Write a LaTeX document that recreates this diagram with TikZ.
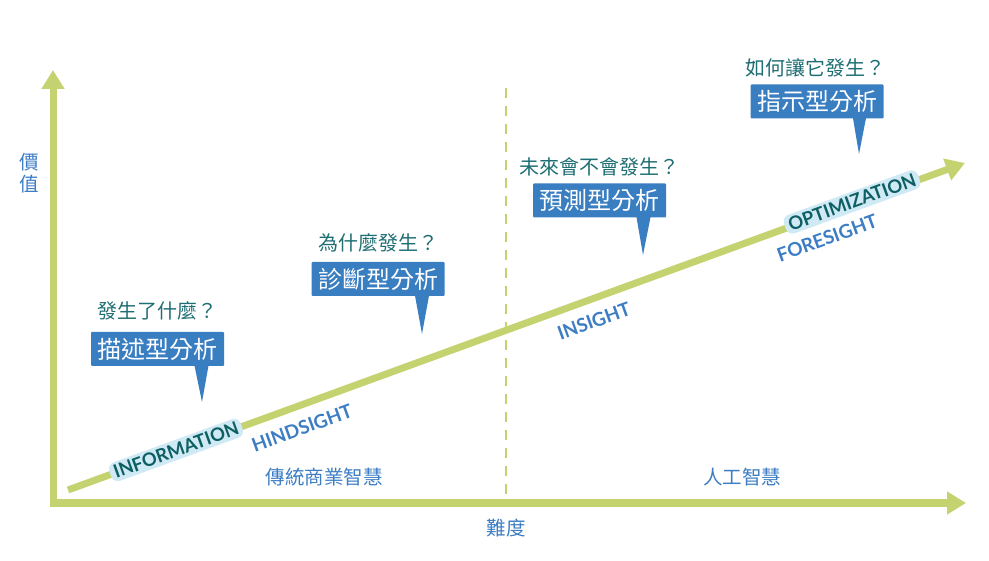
\documentclass[tikz,border=0pt]{standalone}
\usepackage{fontspec}
\newfontfamily\cjk{Noto Sans CJK TC}
\newfontfamily\lat{Lato}
\usetikzlibrary{arrows.meta,calc}
\definecolor{axgreen}{HTML}{C4D36F}
\definecolor{boxblue}{HTML}{3A7EC2}
\definecolor{qteal}{HTML}{1F6E73}
\definecolor{lblblue}{HTML}{3C7DC3}
\definecolor{infoteal}{HTML}{0E5F63}
\definecolor{infobg}{HTML}{CFEAF5}
\begin{document}
\begin{tikzpicture}[x=1pt,y=-1pt,
  axis/.style={draw=axgreen,line width=7pt,-{Triangle[length=19pt,width=22pt]}},
  box/.style={fill=boxblue,text=white,font=\cjk\fontsize{24}{26}\selectfont,minimum width=133pt,minimum height=34pt,inner sep=0pt,rounded corners=1pt},
  question/.style={text=qteal,font=\cjk\fontsize{20}{22}\selectfont,inner sep=0pt},
  axlabel/.style={text=lblblue,font=\cjk\fontsize{19.5}{21}\selectfont,inner sep=0pt},
  stage/.style={text=lblblue,font=\lat\bfseries\fontsize{19}{21}\selectfont,rotate=20,inner sep=0pt},
  level/.style={text=infoteal,fill=infobg,font=\lat\bfseries\fontsize{18.5}{20}\selectfont,rotate=20,inner xsep=4pt,inner ysep=3pt,rounded corners=7pt},
  tail/.style={fill=boxblue}
]
\useasboundingbox (0,0) rectangle (989,561);
% axes
\coordinate (o) at (53,503);
\coordinate (ytip) at (53,70);
\coordinate (xtip) at (966,503);
\coordinate (dstart) at (68,490);
\coordinate (dtip) at (965,163);
\coordinate (dtop) at (506,88);
\coordinate (dbot) at (506,500);
\draw[axgreen,line width=2pt,dash pattern=on 10pt off 8pt] (dtop) -- (dbot);
\draw[axis] (53,506.5) -- (ytip);
\draw[axis] (49.5,503) -- (xtip);
\draw[axis] (dstart) -- (dtip);
% axis labels
\node[axlabel] (yl1) at (29,162) {價};
\node[axlabel] (yl2) at (29,184) {值};
\node[axlabel] (xl) at (506,528) {難度};
\node[axlabel] (bi) at (324,477) {傳統商業智慧};
\node[axlabel] (ai) at (742,477) {人工智慧};
% stage labels
\node[level] (info) at (176,450) {INFORMATION};
\node[stage] (hind) at (302,428) {HINDSIGHT};
\node[stage] (ins) at (594,321) {INSIGHT};
\node[level] (opt) at (852,202) {OPTIMIZATION};
\node[stage] (fore) at (827,238) {FORESIGHT};
% callouts
\node[question] (q1) at (157,311) {發生了什麼？};
\node[box] (b1) at (157.5,349) {描述型分析};
\coordinate (t1) at (202,402);
\fill[tail] ($(b1.south)+(37,-0.5)$) -- ($(b1.south)+(51,-0.5)$) -- (t1) -- cycle;

\node[question] (q2) at (378,243) {為什麼發生？};
\node[box] (b2) at (378,279) {診斷型分析};
\coordinate (t2) at (422,334);
\fill[tail] ($(b2.south)+(37,-0.5)$) -- ($(b2.south)+(51,-0.5)$) -- (t2) -- cycle;

\node[question] (q3) at (599,167) {未來會不會發生？};
\node[box] (b3) at (599.5,200.5) {預測型分析};
\coordinate (t3) at (643,255);
\fill[tail] ($(b3.south)+(37,-0.5)$) -- ($(b3.south)+(51,-0.5)$) -- (t3) -- cycle;

\node[question] (q4) at (815,68) {如何讓它發生？};
\node[box] (b4) at (817,101.5) {指示型分析};
\coordinate (t4) at (859,154);
\fill[tail] ($(b4.south)+(36,-0.5)$) -- ($(b4.south)+(49,-0.5)$) -- (t4) -- cycle;
\end{tikzpicture}
\end{document}
